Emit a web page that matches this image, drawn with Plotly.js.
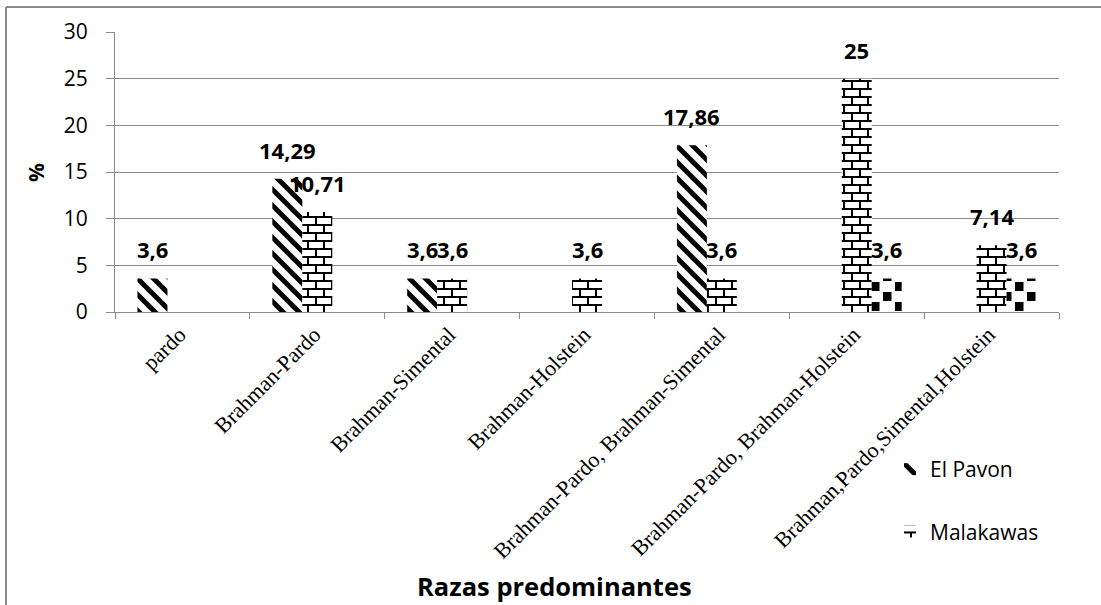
<!DOCTYPE html>
<html><head><meta charset="utf-8">
<script src="https://cdn.plot.ly/plotly-3.0.1.min.js"></script>
<style>html,body{margin:0;padding:0;background:#fff;} #chart{width:1101px;height:605px;}</style>
</head><body><div id="chart"></div>
<script>
// ---- data ----
const categories = ["pardo", "Brahman-Pardo", "Brahman-Simental", "Brahman-Holstein",
  "Brahman-Pardo, Brahman-Simental", "Brahman-Pardo, Brahman-Holstein", "Brahman,Pardo,Simental,Holstein"];
const elPavon   = [3.6, 14.29, 3.6, null, 17.86, null, null];
const malakawas = [null, 10.71, 3.6, 3.6, 3.6, 25, 7.14];
const tercera   = [null, null, null, null, null, 3.6, 3.6];
const seriesNames = ["El Pavon", "Malakawas", "Serie 3"];
const yTicks = [0, 5, 10, 15, 20, 25, 30];
const xTitle = "Razas predominantes";
const yTitle = "%";

// ---- layout geometry ----
const W = 1101, H = 605;
const M = {l: 115, r: 42, t: 32, b: 293};
const PW = W - M.l - M.r, PH = H - M.t - M.b;
const BARGAP = 1 / 3;
const px2x = p => (p - M.l) / PW;
const px2y = p => (H - M.b - p) / PH;
const slot = PW / categories.length * (1 - BARGAP) / 3;

const GRAY = "#8a8a8a";
const SANS = "Open Sans, Noto Sans, sans-serif";
const SERIF = "Liberation Serif, Times New Roman, serif";

const series = [elPavon, malakawas, tercera];
const fallbackShapes = ["\\", "+", "."];
const traces = series.map((vals, k) => ({
  type: "bar",
  name: seriesNames[k],
  x: categories,
  y: vals,
  showlegend: k < 2,
  legendgroup: "g" + k,
  marker: {color: "#ffffff", line: {width: 0},
    pattern: {shape: fallbackShapes[k], fgcolor: "#000", bgcolor: "#fff", size: 16, solidity: 0.4}},
  hoverinfo: "skip"
}));

const fmt = v => String(v).replace(".", ",");
const annotations = [];
series.forEach((vals, k) => {
  vals.forEach((v, i) => {
    if (v === null) return;
    annotations.push({
      x: categories[i], y: v, xref: "x", yref: "y",
      text: fmt(v), showarrow: false, yanchor: "bottom",
      xshift: (k - 1) * slot, yshift: 12,
      font: {family: SANS, size: 22, color: "#000", weight: 700}
    });
  });
});
annotations.push({
  xref: "paper", yref: "paper", x: px2x(554), y: px2y(586),
  text: "<b>" + xTitle + "</b>", showarrow: false, xanchor: "center", yanchor: "middle",
  font: {family: SANS, size: 25.5, color: "#000"}
});
annotations.push({
  xref: "paper", yref: "paper", x: px2x(36), y: px2y(173),
  text: "<b>" + yTitle + "</b>", showarrow: false, textangle: -90,
  xanchor: "center", yanchor: "middle",
  font: {family: SANS, size: 21, color: "#000"}
});

const layout = {
  width: W, height: H,
  margin: M,
  paper_bgcolor: "#fff", plot_bgcolor: "#fff",
  barmode: "group", bargap: BARGAP, bargroupgap: 0,
  showlegend: true,
  legend: {x: px2x(890), y: px2y(449), xanchor: "left", yanchor: "top",
    font: {family: SANS, size: 21, color: "#000"},
    bgcolor: "rgba(0,0,0,0)", tracegroupgap: 32, traceorder: "grouped"},
  xaxis: {type: "category", tickangle: -45, showgrid: false, showline: true,
    linecolor: GRAY, linewidth: 1, ticks: "outside", tickson: "boundaries",
    ticklen: 6, tickcolor: GRAY, ticklabelshift: -3,
    tickfont: {family: SERIF, size: 22, color: "#000"},
    automargin: false, fixedrange: true},
  yaxis: {range: [0, 30], tickvals: yTicks, showgrid: true, gridcolor: GRAY, gridwidth: 1,
    showline: true, linecolor: GRAY, linewidth: 1, ticks: "outside", ticklen: 8, tickcolor: GRAY,
    ticklabelstandoff: 14, zeroline: false,
    tickfont: {family: SANS, size: 21, color: "#000"}, automargin: false, fixedrange: true},
  annotations: annotations,
  shapes: [
    {type: "line", xref: "paper", yref: "paper", x0: px2x(6), x1: px2x(W + 5), y0: px2y(7), y1: px2y(7),
      line: {color: GRAY, width: 2}},
    {type: "line", xref: "paper", yref: "paper", x0: px2x(6), x1: px2x(6), y0: px2y(7), y1: px2y(H + 5),
      line: {color: GRAY, width: 2}}
  ]
};

const gd = document.getElementById("chart");
Plotly.newPlot(gd, traces, layout, {staticPlot: true, displayModeBar: false}).then(() => {
  const NS = "http://www.w3.org/2000/svg";
  const svg = gd.querySelector("svg.main-svg");
  let defs = svg.querySelector("defs");
  const mk = (tag, attrs, parent) => {
    const e = document.createElementNS(NS, tag);
    for (const a in attrs) e.setAttribute(a, attrs[a]);
    if (parent) parent.appendChild(e);
    return e;
  };
  const pat = (id, w, h) => {
    const p = mk("pattern", {id: id, patternUnits: "userSpaceOnUse", width: w, height: h}, defs);
    mk("rect", {x: 0, y: 0, width: w, height: h, fill: "#fff"}, p);
    return p;
  };
  // wide downward diagonal
  const p0 = pat("patDiag", 16, 16);
  mk("polygon", {points: "0,0 3.5,0 16,12.5 16,16 12.5,16 0,3.5", fill: "#000"}, p0);
  mk("polygon", {points: "12.5,0 16,0 16,3.5", fill: "#000"}, p0);
  mk("polygon", {points: "0,12.5 0,16 3.5,16", fill: "#000"}, p0);
  // horizontal brick
  const p1 = pat("patBrick", 16, 16);
  mk("rect", {x: 0, y: 0, width: 16, height: 2, fill: "#000"}, p1);
  mk("rect", {x: 0, y: 8, width: 16, height: 2, fill: "#000"}, p1);
  mk("rect", {x: 0, y: 2, width: 2, height: 6, fill: "#000"}, p1);
  mk("rect", {x: 8, y: 10, width: 2, height: 6, fill: "#000"}, p1);
  // checker
  const p2 = pat("patCheck", 24, 20);
  mk("rect", {x: 0, y: 0, width: 8.5, height: 9, fill: "#000"}, p2);
  mk("rect", {x: 12, y: 10, width: 8.5, height: 9, fill: "#000"}, p2);
  const ids = ["patDiag", "patBrick", "patCheck"];
  gd.querySelectorAll(".barlayer .trace").forEach((tr, k) => {
    const d = tr.__data__;
    const idx = (d && d[0] && d[0].trace) ? d[0].trace.index : k;
    tr.querySelectorAll(".point path").forEach(p => { p.style.fill = "url(#" + ids[idx] + ")"; p.style.fillOpacity = 1; });
  });
  gd.querySelectorAll(".legend .traces").forEach((tr, k) => {
    const d = tr.__data__;
    const idx = (d && d[0] && d[0][0] && d[0][0].trace) ? d[0][0].trace.index : k;
    tr.querySelectorAll(".legendpoints path").forEach(p => { p.style.fill = "url(#" + ids[idx] + ")"; p.style.stroke = "none"; });
  });
});
</script>
</body></html>
